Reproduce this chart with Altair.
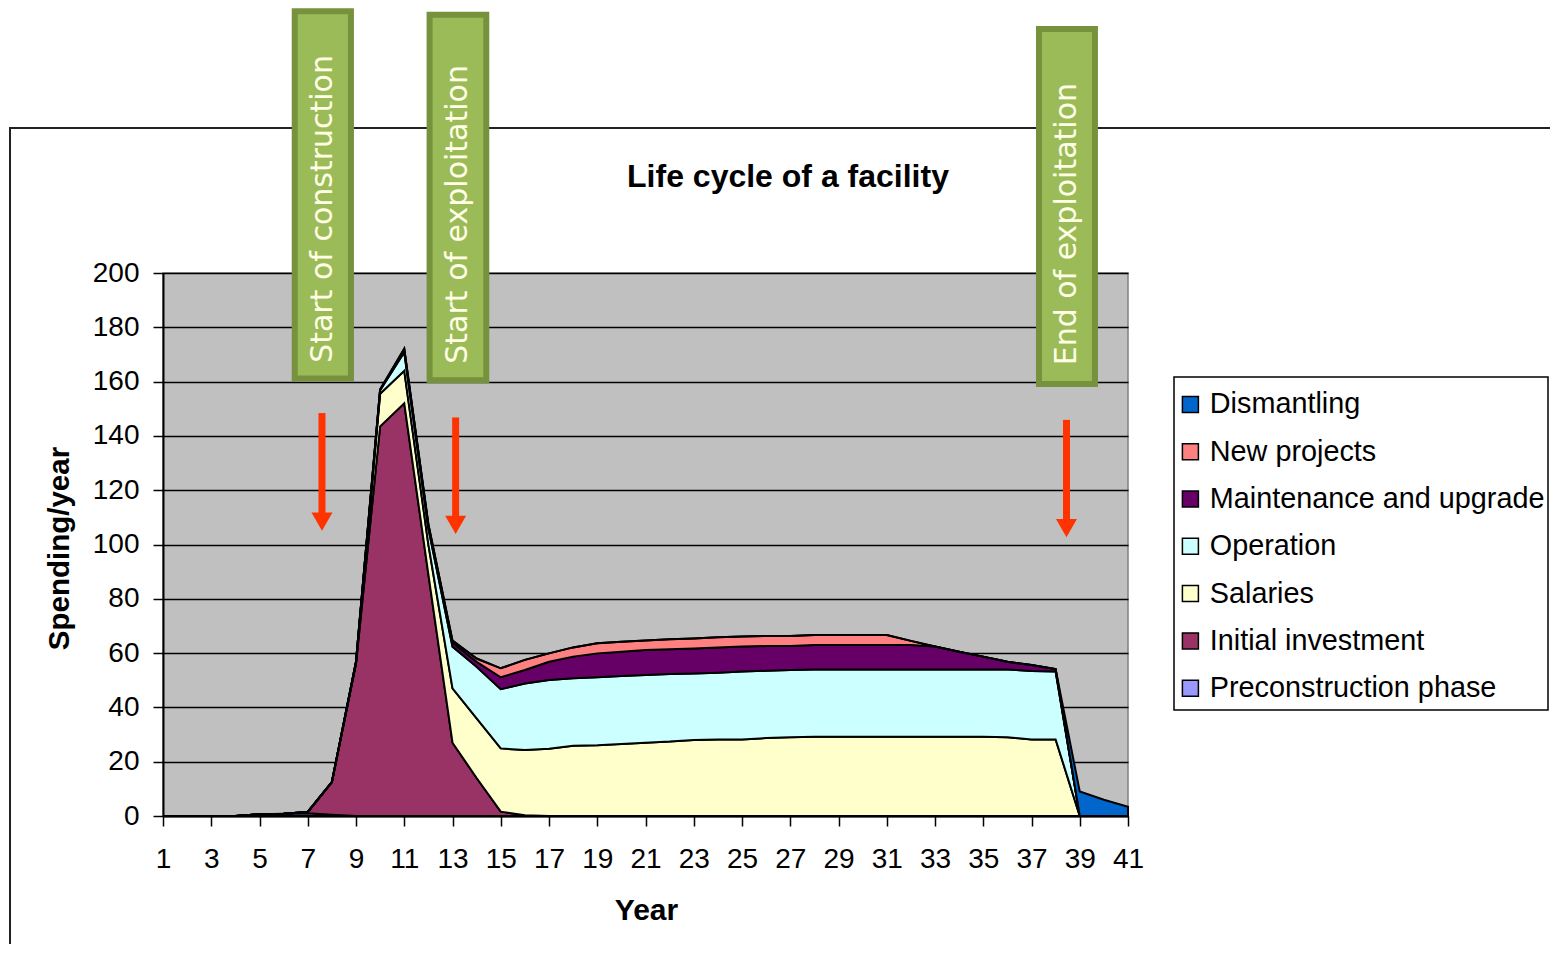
import altair as alt
import pandas as pd

years = list(range(1, 42))

preconstruction = [0, 0, 0, 0, 0.6, 0.8, 1.0, 0.5] + [0] * 33
initial_investment = [0] * 6 + [0.5, 12, 56, 143.5, 152, 89, 27, 14, 1.6, 0.3] + [0] * 25
salaries = ([0] * 8 +
            [0.5, 12, 12, 11, 20, 22, 23.3, 24, 24.8, 25.9, 26.1, 26.5, 27, 27.4, 28, 28.2, 28.2, 28.7, 29] +
            [29.2] * 8 + [29, 28.2, 28.2] + [0] * 3)
operation = ([0] * 8 +
             [0.3, 1.3, 6.8, 6, 15.4, 19, 21.8, 24.5, 25.3, 24.8, 25, 25.1, 24.9, 24.9, 24.5, 24.6, 25, 24.8, 24.8] +
             [24.8] * 8 + [25, 25.2, 25] + [0] * 3)
maintenance = ([0] * 9 +
               [0.3, 0.8, 1, 1.4, 1.8, 4.4, 5, 6.7, 8, 8.8, 8.9, 9.2, 9.1, 9.2, 9.3, 9.2, 9.1, 8.8] +
               [9] * 5 + [8.4, 6.5, 4.7, 2.8, 2.2, 0.9] + [0] * 3)
new_projects = ([0] * 10 +
                [0.5, 0.5, 0.8, 1.2, 3.3, 3.7, 3.1, 3.4, 3.7, 3.7, 3.5] +
                [3.7] * 10 + [1.5] + [0] * 9)
dismantling = [0] * 38 + [9, 6, 3.4]

series_names = ["Preconstruction phase", "Initial investment", "Salaries", "Operation",
                "Maintenance and upgrade", "New projects", "Dismantling"]
series_values = [preconstruction, initial_investment, salaries, operation,
                 maintenance, new_projects, dismantling]
series_colors = ["#9999FF", "#993366", "#FFFFCC", "#CCFFFF", "#660066", "#FF8080", "#0066CC"]

chart_title = "Life cycle of a facility"
x_title = "Year"
y_title = "Spending/year"

# annotations (in data units: years / spending)
ann_labels = ["Start of construction", "Start of exploitation", "End of exploitation"]
ann_x1 = [6.46, 12.05, 37.31]
ann_x2 = [8.79, 14.40, 39.63]
ann_y1 = [161.1, 160.5, 159.1]
ann_y2 = [296.4, 295.1, 289.9]
ann_text_x = [7.62, 13.22, 38.47]
ann_text_y = [166.9, 166.6, 166.0]
arrow_x = [7.59, 13.13, 38.45]
arrow_top = [148.4, 146.8, 145.9]
arrow_bottom = [111.0, 110.0, 109.0]
arrow_head = [108.4, 107.2, 106.0]

rows = []
for rank, (name, vals) in enumerate(zip(series_names, series_values)):
    for yr, v in zip(years, vals):
        rows.append({"year": yr, "value": v, "series": name, "rank": rank})
df = pd.DataFrame(rows)

ann_df = pd.DataFrame({"label": ann_labels, "x1": ann_x1, "x2": ann_x2, "y1": ann_y1, "y2": ann_y2,
                       "tx": ann_text_x, "ty": ann_text_y})
arr_df = pd.DataFrame({"x": arrow_x, "top": arrow_top, "bottom": arrow_bottom, "head": arrow_head})

FONT = "Liberation Sans"
xscale = alt.Scale(domain=[1, 41], nice=False, zero=False)
yscale = alt.Scale(domain=[0, 200], nice=False)

legend_order = list(reversed(series_names))
legend_colors = list(reversed(series_colors))

area = alt.Chart(df).mark_area(stroke="black", strokeWidth=2, interpolate="linear", opacity=1).encode(
    x=alt.X("year:Q", scale=xscale,
            axis=alt.Axis(values=years, labelExpr="datum.value % 2 == 1 ? datum.label : ''",
                          grid=False, tickSize=10, tickColor="black", tickWidth=1.5,
                          domainColor="black", domainWidth=2,
                          labelFont=FONT, labelFontSize=28, labelColor="black", labelPadding=19,
                          labelOverlap=False, labelFlush=False, labelBound=False,
                          title=x_title, titleFont=FONT, titleFontSize=30, titleFontWeight="bold",
                          titleColor="black", titleX=483, titleY=103, titleBaseline="alphabetic",
                          titleAlign="center")),
    y=alt.Y("value:Q", stack="zero", scale=yscale,
            axis=alt.Axis(values=list(range(0, 201, 20)), grid=True, gridColor="black", gridWidth=1.5,
                          tickSize=10, tickColor="black", tickWidth=1.5,
                          domainColor="black", domainWidth=2,
                          labelFont=FONT, labelFontSize=28, labelColor="black", labelPadding=14,
                          title=y_title, titleFont=FONT, titleFontSize=29.5, titleFontWeight="bold",
                          titleColor="black", titleX=-95, titleY=275, titleBaseline="alphabetic",
                          titleAngle=270, titleAlign="center")),
    color=alt.Color("series:N", scale=alt.Scale(domain=legend_order, range=legend_colors),
                    legend=alt.Legend(title=None, orient="none", legendX=1013, legendY=117,
                                      symbolType="square", symbolSize=256, symbolStrokeColor="black",
                                      symbolStrokeWidth=1.5, symbolOpacity=1,
                                      labelFont=FONT, labelFontSize=28.8, labelColor="black",
                                      labelOffset=5, labelLimit=0, rowPadding=17.3, padding=0)),
    order=alt.Order("rank:Q", sort="ascending"),
)

boxes = alt.Chart(ann_df).mark_rect(fill="#9BBB59", stroke="#76923C", strokeWidth=6).encode(
    x=alt.X("x1:Q", scale=xscale), x2="x2:Q",
    y=alt.Y("y1:Q", scale=yscale), y2="y2:Q",
)
box_text = alt.Chart(ann_df).mark_text(angle=270, align="left", baseline="middle",
                                       font="DejaVu Sans", fontSize=30, color="#FFFFE6").encode(
    x=alt.X("tx:Q", scale=xscale), y=alt.Y("ty:Q", scale=yscale), text="label:N",
)
shafts = alt.Chart(arr_df).mark_rule(color="#FF3300", strokeWidth=7).encode(
    x=alt.X("x:Q", scale=xscale), y=alt.Y("top:Q", scale=yscale), y2="bottom:Q",
)
heads = alt.Chart(arr_df).mark_point(shape="triangle-down", filled=True, size=441,
                                     color="#FF3300", opacity=1).encode(
    x=alt.X("x:Q", scale=xscale), y=alt.Y("head:Q", scale=yscale),
)

title_df = pd.DataFrame({"t": [chart_title]})
title = alt.Chart(title_df).mark_text(font=FONT, fontSize=32, fontWeight="bold", color="black",
                                      align="center", baseline="alphabetic").encode(
    text="t:N", x=alt.value(625), y=alt.value(-86),
)
frame = alt.Chart(title_df).mark_rect(fillOpacity=0, stroke="#222222", strokeWidth=2).encode(
    x=alt.value(-153), x2=alt.value(1500), y=alt.value(-145), y2=alt.value(1000),
)
legend_box = alt.Chart(title_df).mark_rect(fill="white", stroke="black", strokeWidth=1.5).encode(
    x=alt.value(1011), x2=alt.value(1385), y=alt.value(104), y2=alt.value(437),
)

chart = alt.layer(frame, legend_box, area, boxes, box_text, shafts, heads, title).properties(
    width=965, height=543,
    padding={"left": 155, "top": 265, "right": 422, "bottom": 128},
    autosize=alt.AutoSizeParams(type="none"),
    background="white",
).configure_view(fill="#C0C0C0", stroke="#808080", strokeWidth=1.5)

chart.save("out.html", embed_options={"renderer": "svg", "actions": False})
